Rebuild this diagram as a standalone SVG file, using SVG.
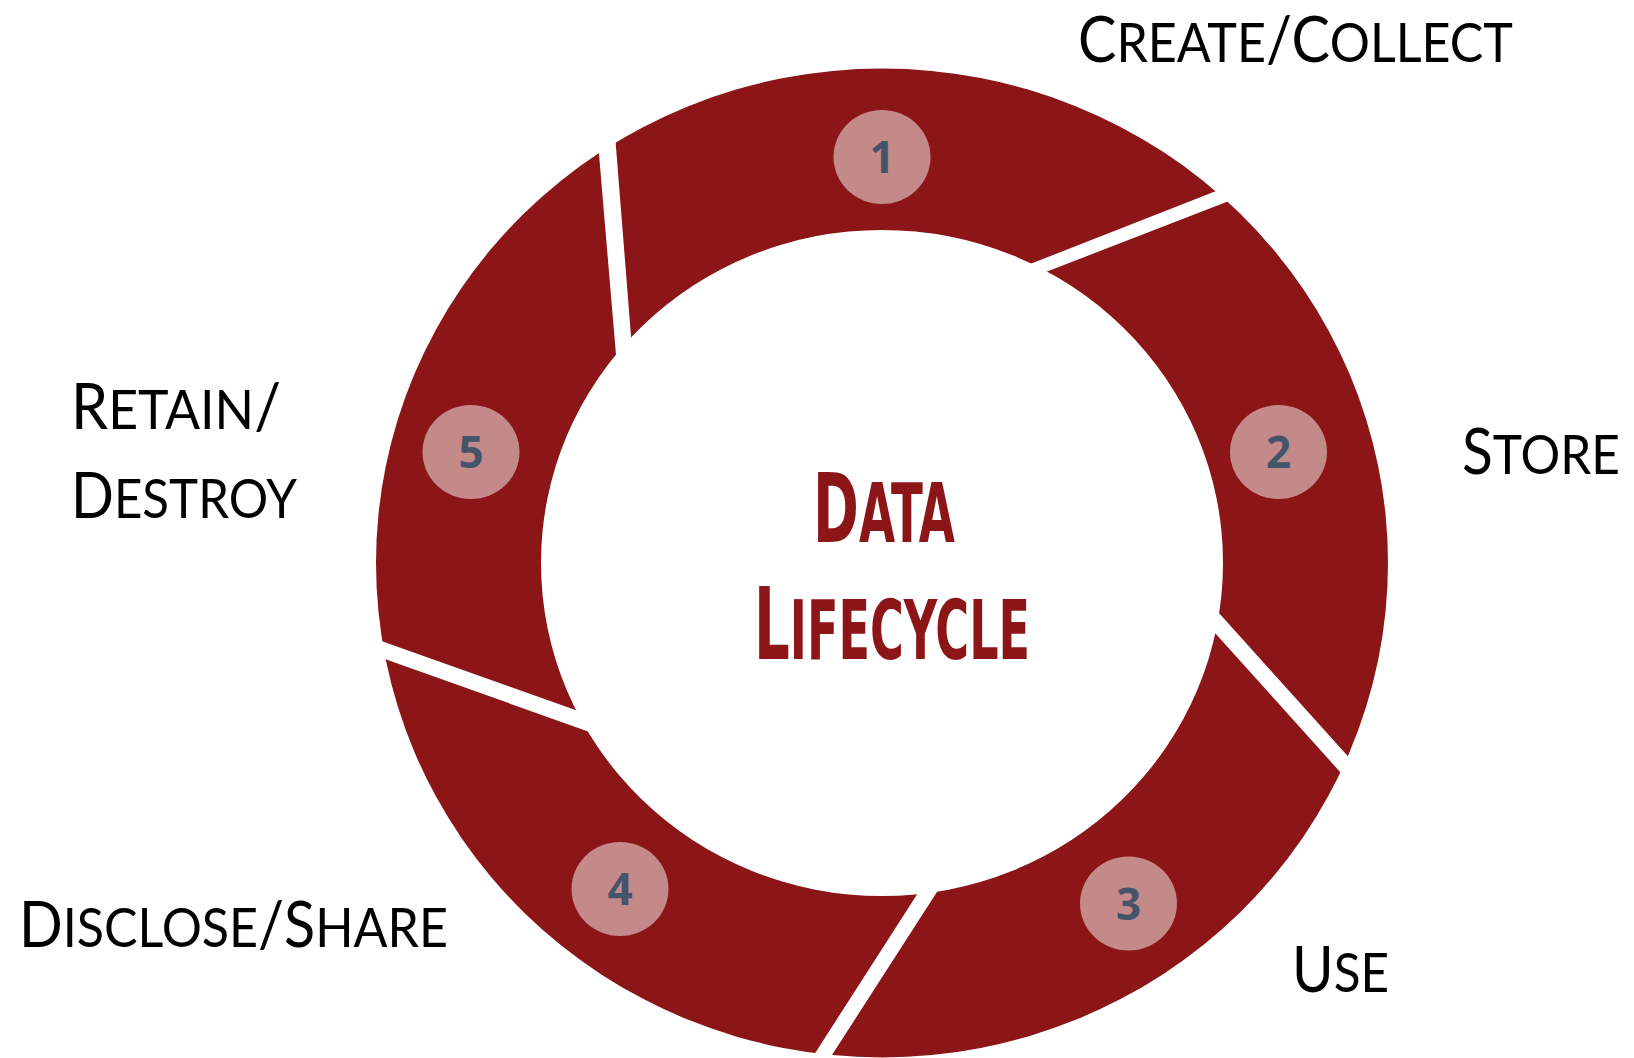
<svg xmlns="http://www.w3.org/2000/svg" xmlns:xlink="http://www.w3.org/1999/xlink" width="1634" height="1058" viewBox="0 0 1634 1058">
<style>
.seg{fill:#8C1518}
.badge{fill:#C48989}
.num{font-family:"Open Sans","DejaVu Sans",sans-serif;font-weight:bold;font-size:44px;fill:#44546A;text-anchor:middle}
.lbl{font-family:Lato,"Open Sans",sans-serif;fill:#000}
.title{font-family:"DejaVu Sans Condensed","DejaVu Sans",sans-serif;font-weight:bold;fill:#8C1518}
</style>
<defs>
<path id="ring" fill-rule="evenodd" d="M376,563 A506,494.5 0 1 0 1388,563 A506,494.5 0 1 0 376,563 Z M541,563 A341,333 0 1 0 1223,563 A341,333 0 1 0 541,563 Z"/>
<clipPath id="c1"><polygon points="636,399 611,84 611,20 1260,20 1234,184 997,277 882,563"/></clipPath>
<clipPath id="c2"><polygon points="1020,282 1260,189 1450,189 1450,813 1399,813 1192,583 882,563"/></clipPath>
<clipPath id="c3"><polygon points="1188,603 1395,833 1450,833 1450,1100 803,1100 964,850 882,563"/></clipPath>
<clipPath id="c4"><polygon points="640,750 330,639.4 300,639 300,1100 785,1100 952,840 882,563"/></clipPath>
<clipPath id="c5"><polygon points="640,733 330,622.8 300,622.8 300,40 594,40 594,95 621,414 882,563"/></clipPath>
</defs>
<rect width="1634" height="1058" fill="#fff"/>
<g id="connectors"/>
<g id="node1">
<use xlink:href="#ring" class="seg" clip-path="url(#c1)"/>
<ellipse class="badge" cx="882" cy="157" rx="48.5" ry="47"/>
<text class="num" x="882" y="173">1</text>
</g>
<g id="node2">
<use xlink:href="#ring" class="seg" clip-path="url(#c2)"/>
<ellipse class="badge" cx="1278.5" cy="452" rx="48.5" ry="47"/>
<text class="num" x="1278.5" y="468">2</text>
</g>
<g id="node3">
<use xlink:href="#ring" class="seg" clip-path="url(#c3)"/>
<ellipse class="badge" cx="1128.5" cy="903.5" rx="48.5" ry="47"/>
<text class="num" x="1128.5" y="919.5">3</text>
</g>
<g id="node4">
<use xlink:href="#ring" class="seg" clip-path="url(#c4)"/>
<ellipse class="badge" cx="620" cy="889" rx="48.5" ry="47"/>
<text class="num" x="620" y="905">4</text>
</g>
<g id="node5">
<use xlink:href="#ring" class="seg" clip-path="url(#c5)"/>
<ellipse class="badge" cx="471" cy="452" rx="48.5" ry="47"/>
<text class="num" x="471" y="468">5</text>
</g>
<g id="labels">
<text class="lbl" x="1078" y="62" textLength="435" lengthAdjust="spacingAndGlyphs"><tspan font-size="63">C</tspan><tspan font-size="55">REATE</tspan><tspan font-size="63">/C</tspan><tspan font-size="55">OLLECT</tspan></text>
<text class="lbl" x="1462" y="474" textLength="158" lengthAdjust="spacingAndGlyphs"><tspan font-size="63">S</tspan><tspan font-size="55">TORE</tspan></text>
<text class="lbl" x="1292" y="992" textLength="97" lengthAdjust="spacingAndGlyphs"><tspan font-size="63">U</tspan><tspan font-size="55">SE</tspan></text>
<text class="lbl" x="19" y="947" textLength="429" lengthAdjust="spacingAndGlyphs"><tspan font-size="63">D</tspan><tspan font-size="55">ISCLOSE</tspan><tspan font-size="63">/S</tspan><tspan font-size="55">HARE</tspan></text>
<text class="lbl" x="71" y="429" textLength="210" lengthAdjust="spacingAndGlyphs"><tspan font-size="63">R</tspan><tspan font-size="55">ETAIN</tspan><tspan font-size="63">/</tspan></text>
<text class="lbl" x="71" y="518" textLength="226" lengthAdjust="spacingAndGlyphs"><tspan font-size="63">D</tspan><tspan font-size="55">ESTROY</tspan></text>
</g>
<g id="title">
<text class="title" x="813" y="542" textLength="142" lengthAdjust="spacingAndGlyphs"><tspan font-size="97">D</tspan><tspan font-size="82">ATA</tspan></text>
<text class="title" x="754" y="659" textLength="276" lengthAdjust="spacingAndGlyphs"><tspan font-size="100">L</tspan><tspan font-size="82">IFECYCLE</tspan></text>
</g>
</svg>
